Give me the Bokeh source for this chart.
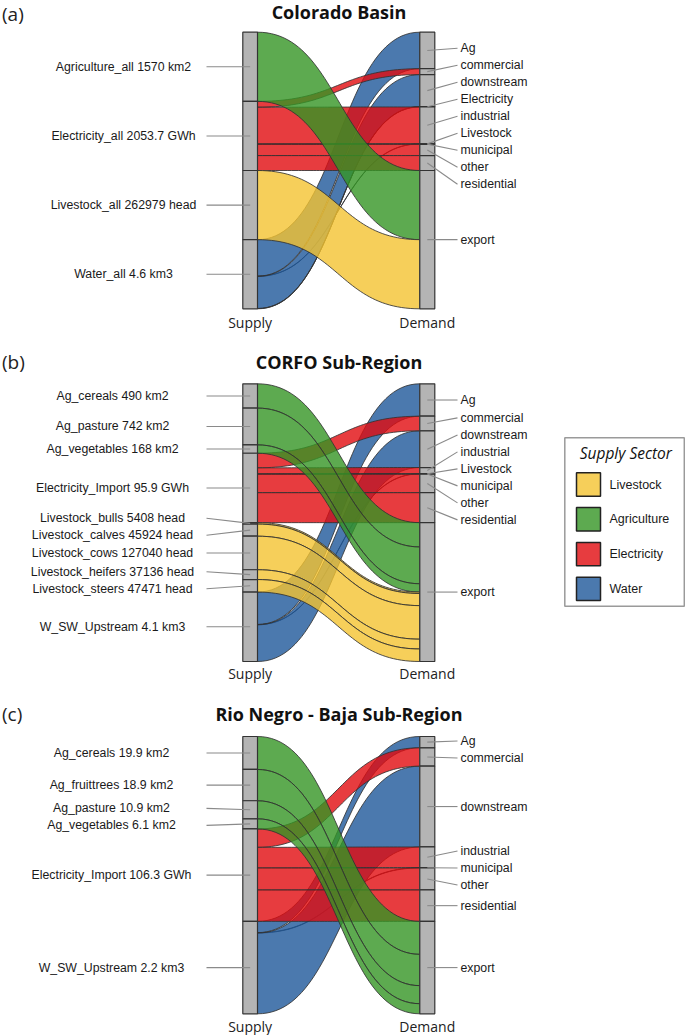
import numpy as np
from bokeh.plotting import figure
from bokeh.models import Range1d
from bokeh.core.properties import value
from bokeh.embed import file_html
from bokeh.resources import INLINE

# ---------------- data: panel (a) Colorado Basin ----------------
a_supply = ["Agriculture_all", "Electricity_all", "Livestock_all", "Water_all"]
a_sector = ["Agriculture", "Electricity", "Livestock", "Water"]
a_value = [1570, 2053.7, 262979, 4.6]
a_unit = ["km2", "GWh", "head", "km3"]
a_demand = ["Ag", "commercial", "downstream", "Electricity", "industrial",
            "Livestock", "municipal", "other", "residential", "export"]
a_from = ["Agriculture_all",
          "Electricity_all", "Electricity_all", "Electricity_all", "Electricity_all", "Electricity_all",
          "Livestock_all",
          "Water_all", "Water_all", "Water_all", "Water_all"]
a_to = ["export",
        "commercial", "industrial", "municipal", "other", "residential",
        "export",
        "Ag", "Livestock", "downstream", "Electricity"]
a_share = [1.0,
           0.085, 0.532, 0.004, 0.163, 0.216,
           1.0,
           0.528, 0.004, 0.464, 0.004]

# ---------------- data: panel (b) CORFO Sub-Region ----------------
b_supply = ["Ag_cereals", "Ag_pasture", "Ag_vegetables", "Electricity_Import",
            "Livestock_bulls", "Livestock_calves", "Livestock_cows", "Livestock_heifers",
            "Livestock_steers", "W_SW_Upstream"]
b_sector = ["Agriculture", "Agriculture", "Agriculture", "Electricity",
            "Livestock", "Livestock", "Livestock", "Livestock", "Livestock", "Water"]
b_value = [490, 742, 168, 95.9, 5408, 45924, 127040, 37136, 47471, 4.1]
b_unit = ["km2", "km2", "km2", "GWh", "head", "head", "head", "head", "head", "km3"]
b_demand = ["Ag", "commercial", "downstream", "industrial", "Livestock",
            "municipal", "other", "residential", "export"]
b_from = ["Ag_cereals", "Ag_pasture", "Ag_vegetables",
          "Electricity_Import", "Electricity_Import", "Electricity_Import",
          "Electricity_Import", "Electricity_Import",
          "Livestock_bulls", "Livestock_calves", "Livestock_cows", "Livestock_heifers",
          "Livestock_steers",
          "W_SW_Upstream", "W_SW_Upstream", "W_SW_Upstream"]
b_to = ["export", "export", "export",
        "commercial", "industrial", "municipal", "other", "residential",
        "export", "export", "export", "export", "export",
        "Ag", "Livestock", "downstream"]
b_share = [1.0, 1.0, 1.0,
           0.21, 0.088, 0.004, 0.266, 0.432,
           1.0, 1.0, 1.0, 1.0, 1.0,
           0.467, 0.004, 0.529]

# ---------------- data: panel (c) Rio Negro - Baja Sub-Region ----------------
c_supply = ["Ag_cereals", "Ag_fruittrees", "Ag_pasture", "Ag_vegetables",
            "Electricity_Import", "W_SW_Upstream"]
c_sector = ["Agriculture", "Agriculture", "Agriculture", "Agriculture",
            "Electricity", "Water"]
c_value = [19.9, 18.9, 10.9, 6.1, 106.3, 2.2]
c_unit = ["km2", "km2", "km2", "km2", "GWh", "km3"]
c_demand = ["Ag", "commercial", "downstream", "industrial", "municipal",
            "other", "residential", "export"]
c_from = ["Ag_cereals", "Ag_fruittrees", "Ag_pasture", "Ag_vegetables",
          "Electricity_Import", "Electricity_Import", "Electricity_Import", "Electricity_Import",
          "W_SW_Upstream", "W_SW_Upstream", "W_SW_Upstream"]
c_to = ["export", "export", "export", "export",
        "commercial", "industrial", "other", "residential",
        "Ag", "municipal", "downstream"]
c_share = [1.0, 1.0, 1.0, 1.0,
           0.199, 0.223, 0.238, 0.34,
           0.122, 0.004, 0.874]

legend_sectors = ["Livestock", "Agriculture", "Electricity", "Water"]
sector_colors = {"Agriculture": "#359524", "Electricity": "#E10B0F",
                 "Livestock": "#F4C331", "Water": "#1E589A"}
draw_order = ["Water", "Electricity", "Agriculture", "Livestock"]

# ---------------- layout ----------------
XS0, XS1 = 242.3, 257.0      # supply bar
XD0, XD1 = 419.3, 434.3      # demand bar
panels = [
    dict(tag="(a)", title="Colorado Basin", top=31.7, bot=308.3, ty=11, tagy=13, ly=321.7, lx=123,
         data=(a_supply, a_sector, a_value, a_unit, a_demand, a_from, a_to, a_share)),
    dict(tag="(b)", title="CORFO Sub-Region", top=383.3, bot=661.0, ty=361.7, tagy=361.7, ly=673.3, lx=112,
         data=(b_supply, b_sector, b_value, b_unit, b_demand, b_from, b_to, b_share)),
    dict(tag="(c)", title="Rio Negro - Baja Sub-Region", top=736.0, bot=1013.3, ty=713.3, tagy=713.3,
         ly=1025.5, lx=111,
         data=(c_supply, c_sector, c_value, c_unit, c_demand, c_from, c_to, c_share)),
]


def bez(x0, y0, x1, y1, n=50):
    t = np.linspace(0, 1, n)
    xm = (x0 + x1) / 2.0
    x = (1 - t) ** 3 * x0 + 3 * (1 - t) ** 2 * t * xm + 3 * (1 - t) * t ** 2 * xm + t ** 3 * x1
    y = (1 - t) ** 3 * y0 + 3 * (1 - t) ** 2 * t * y0 + 3 * (1 - t) * t ** 2 * y1 + t ** 3 * y1
    return x, y


def spread(desired, gap=17.0):
    n = len(desired)
    clusters = [[i] for i in range(n)]

    def pos(cl):
        c = float(np.mean([desired[i] for i in cl]))
        k = len(cl)
        return [c + (j - (k - 1) / 2.0) * gap for j in range(k)]

    changed = True
    while changed:
        changed = False
        for i in range(len(clusters) - 1):
            pa, pb = pos(clusters[i]), pos(clusters[i + 1])
            if pb[0] - pa[-1] < gap - 1e-9:
                clusters[i] = clusters[i] + clusters[i + 1]
                del clusters[i + 1]
                changed = True
                break
    out = [0.0] * n
    for cl in clusters:
        for i, y in zip(cl, pos(cl)):
            out[i] = y
    return out


p = figure(width=685, height=1035, x_range=Range1d(0, 685), y_range=Range1d(1035, 0),
           output_backend="svg", toolbar_location=None, min_border=0,
           x_axis_type=None, y_axis_type=None)
p.grid.visible = False
p.outline_line_color = None
p.background_fill_color = "white"
p.border_fill_color = "white"

flow_patches = {s: ([], []) for s in draw_order}
bars = dict(left=[], right=[], top=[], bottom=[])
lead_x, lead_y = [], []
ltxt = dict(x=[], y=[], t=[])
rtxt = dict(x=[], y=[], t=[])

for pn in panels:
    supply, sector, values, units, demand, f_from, f_to, f_share = pn["data"]
    top, bot = pn["top"], pn["bot"]
    sectors = list(dict.fromkeys(sector))
    unit_h = (bot - top) / len(sectors)
    tot = {s: sum(v for v, ss in zip(values, sector) if ss == s) for s in sectors}
    sy0, sy1 = {}, {}
    y = top
    for name, s, v in zip(supply, sector, values):
        h = unit_h * v / tot[s]
        sy0[name], sy1[name] = y, y + h
        y += h
    flows = []
    cursor = dict(sy0)
    for k, (f, t, sh) in enumerate(zip(f_from, f_to, f_share)):
        h = (sy1[f] - sy0[f]) * sh
        flows.append(dict(src=f, dst=t, s0=cursor[f], s1=cursor[f] + h, h=h,
                          sec=sector[supply.index(f)], k=k))
        cursor[f] += h
    dy0, dy1 = {}, {}
    y = top
    for d in demand:
        fl = sorted([q for q in flows if q["dst"] == d],
                    key=lambda q: (supply.index(q["src"]), q["k"]))
        dy0[d] = y
        for q in fl:
            q["d0"], q["d1"] = y, y + q["h"]
            y += q["h"]
        dy1[d] = y
    # flows
    for q in flows:
        xt, yt = bez(XS1, q["s0"], XD0, q["d0"])
        xb, yb = bez(XD0, q["d1"], XS1, q["s1"])
        flow_patches[q["sec"]][0].append(list(np.concatenate([xt, xb])))
        flow_patches[q["sec"]][1].append(list(np.concatenate([yt, yb])))
    # bars
    for name in supply:
        bars["left"].append(XS0); bars["right"].append(XS1)
        bars["top"].append(sy0[name]); bars["bottom"].append(sy1[name])
    for d in demand:
        bars["left"].append(XD0); bars["right"].append(XD1)
        bars["top"].append(dy0[d]); bars["bottom"].append(dy1[d])
    # left labels
    sc = [(sy0[n] + sy1[n]) / 2 for n in supply]
    sl = spread(sc)
    for n, v, u, c, l in zip(supply, values, units, sc, sl):
        ltxt["x"].append(pn["lx"]); ltxt["y"].append(l); ltxt["t"].append(f"{n} {v:g} {u}")
        lead_x.append([206.0, (XS0 + XS1) / 2]); lead_y.append([l, c])
    # right labels
    dc = [(dy0[d] + dy1[d]) / 2 for d in demand]
    dl = spread(dc)
    for d, c, l in zip(demand, dc, dl):
        rtxt["x"].append(460.0); rtxt["y"].append(l); rtxt["t"].append(d)
        lead_x.append([(XD0 + XD1) / 2, 457.0]); lead_y.append([c, l])
    # titles
    p.text(x=[338.5], y=[pn["ty"]], text=[pn["title"]], text_font=value("Open Sans"),
           text_font_style="bold", text_font_size="18px", text_align="center",
           text_baseline="middle", text_color="#111111")
    p.text(x=[1.5], y=[pn["tagy"]], text=[pn["tag"]], text_font=value("Open Sans"),
           text_font_size="19px", text_align="left", text_baseline="middle", text_color="#222222")
    p.text(x=[(XS0 + XS1) / 2, (XD0 + XD1) / 2], y=[pn["ly"], pn["ly"]], text=["Supply", "Demand"],
           text_font=value("Open Sans"), text_font_size="14px", text_align="center",
           text_baseline="middle", text_color="#222222")

for s in draw_order:
    xs, ys = flow_patches[s]
    p.patches(xs, ys, fill_color=sector_colors[s], fill_alpha=0.8,
              line_color="#333333", line_width=1.0, line_alpha=0.85)

p.quad(left="left", right="right", top="top", bottom="bottom", source=bars,
       fill_color="#B4B4B4", line_color="#333333", line_width=1.2)
p.multi_line(lead_x, lead_y, line_color="#8a8a8a", line_width=1.1)
p.text(x=ltxt["x"], y=ltxt["y"], text=ltxt["t"], text_font=value("Liberation Sans"),
       text_font_size="12.3px", text_align="center", text_baseline="middle", text_color="#1a1a1a")
p.text(x=rtxt["x"], y=rtxt["y"], text=rtxt["t"], text_font=value("Liberation Sans"),
       text_font_size="12.3px", text_align="left", text_baseline="middle", text_color="#1a1a1a")

# legend
LX0, LX1, LY0, LY1 = 564.3, 683.8, 437.3, 605.7
p.quad(left=[LX0], right=[LX1], top=[LY0], bottom=[LY1], fill_color="white",
       line_color="#9a9a9a", line_width=1.5)
p.text(x=[625.3], y=[452.7], text=["Supply Sector"], text_font=value("Open Sans"),
       text_font_style="italic", text_font_size="15.5px", text_align="center",
       text_baseline="middle", text_color="#111111")
leg_y = [484.0 + 34.8 * i for i in range(len(legend_sectors))]
p.quad(left=[576.0] * 4, right=[600.0] * 4, top=[y - 11.7 for y in leg_y],
       bottom=[y + 11.7 for y in leg_y], fill_color=[sector_colors[s] for s in legend_sectors],
       fill_alpha=0.8, line_color="#222222", line_width=1.5)
p.text(x=[609.0] * 4, y=leg_y, text=legend_sectors, text_font=value("Liberation Sans"),
       text_font_size="12.5px", text_align="left", text_baseline="middle", text_color="#1a1a1a")

open("out.html", "w").write(file_html(p, INLINE))
